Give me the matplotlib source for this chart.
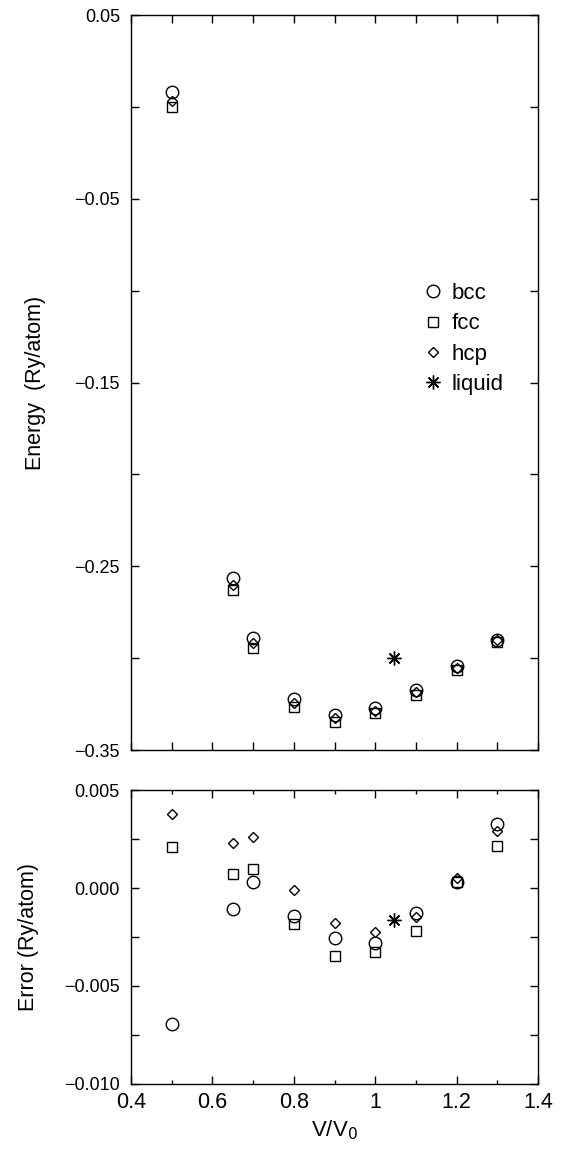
import numpy as np
import matplotlib
matplotlib.use('Agg')
import matplotlib.pyplot as plt
from matplotlib.ticker import MultipleLocator, FixedLocator

plt.rcParams['font.family'] = ['Liberation Sans', 'DejaVu Sans']

# ---- data ----
vol = [0.5, 0.65, 0.7, 0.8, 0.9, 1.0, 1.1, 1.2, 1.3]
e_bcc = [0.008, -0.2565, -0.289, -0.322, -0.331, -0.327, -0.3174, -0.3044, -0.290]
e_fcc = [0.000, -0.263, -0.2946, -0.3267, -0.335, -0.330, -0.320, -0.3066, -0.291]
e_hcp = [0.003, -0.260, -0.292, -0.3245, -0.3327, -0.329, -0.3185, -0.3055, -0.290]
liq_vol = [1.046]
e_liq = [-0.300]

err_bcc = [-0.00695, -0.00109, 0.00032, -0.00143, -0.00257, -0.00279, -0.00126, 0.00032, 0.00325]
err_fcc = [0.00208, 0.00071, 0.00095, -0.00184, -0.00347, -0.00325, -0.00218, 0.00030, 0.00214]
err_hcp = [0.00376, 0.00231, 0.00262, -0.00010, -0.00180, -0.00223, -0.00146, 0.00050, 0.00290]
err_liq = [-0.00163]

top_ticks = [0.05, -0.05, -0.15, -0.25, -0.35]
top_labels = ['0.05', '\u22120.05', '\u22120.15', '\u22120.25', '\u22120.35']
bot_ticks = [0.005, 0.0, -0.005, -0.010]
bot_labels = ['0.005', '0.000', '\u22120.005', '\u22120.010']
x_ticks = [0.4, 0.6, 0.8, 1.0, 1.2, 1.4]
x_labels = ['0.4', '0.6', '0.8', '1', '1.2', '1.4']

fig = plt.figure(figsize=(5.64, 11.56), dpi=100)
ax1 = fig.add_axes([0.2323, 0.3512, 0.7216, 0.6358])
ax2 = fig.add_axes([0.2323, 0.0623, 0.7216, 0.2543])

mk = dict(linestyle='none', markerfacecolor='none', markeredgecolor='black', markeredgewidth=1.0)

def draw(ax, b, f, h, lq):
    ax.plot(vol, b, marker='o', markersize=9, label='bcc', **mk)
    ax.plot(vol, f, marker='s', markersize=7.5, label='fcc', **mk)
    ax.plot(vol, h, marker='D', markersize=5.6, label='hcp', **mk)
    ax.plot(liq_vol, lq, marker=(8, 2, 0), markersize=10, color='black',
            linestyle='none', markeredgewidth=1.0, label='liquid')

draw(ax1, e_bcc, e_fcc, e_hcp, e_liq)
draw(ax2, err_bcc, err_fcc, err_hcp, err_liq)

for ax in (ax1, ax2):
    ax.set_xlim(0.4, 1.4)
    ax.tick_params(which='both', direction='in', top=True, right=True, width=1)
    ax.tick_params(which='major', length=6)
    ax.tick_params(axis='y', which='major', pad=8, labelsize=13)
    for s in ax.spines.values():
        s.set_linewidth(1.0)

# energy panel
ax1.set_ylim(-0.35, 0.05)
ax1.xaxis.set_major_locator(MultipleLocator(0.1))
ax1.set_xticklabels([])
ax1.yaxis.set_major_locator(FixedLocator(top_ticks))
ax1.set_yticklabels(top_labels)
ax1.yaxis.set_minor_locator(FixedLocator([0.0, -0.1, -0.2, -0.3]))
ax1.tick_params(which='minor', length=6)
ax1.set_ylabel('Energy  (Ry/atom)', fontsize=15.5)
ax1.yaxis.set_label_coords(-0.209, 0.5)

ax1.legend(loc='upper left', bbox_to_anchor=(424 / 564, 1 - 283 / 1156),
           bbox_transform=fig.transFigure, frameon=False, fontsize=16,
           handlelength=0.8, handletextpad=0.45, labelspacing=0.42,
           borderpad=0, borderaxespad=0)

# error panel
ax2.set_ylim(-0.010, 0.005)
ax2.set_xticks(x_ticks)
ax2.set_xticklabels(x_labels, fontsize=15.5)
ax2.xaxis.set_minor_locator(MultipleLocator(0.1))
ax2.tick_params(axis='x', which='minor', length=3)
ax2.tick_params(axis='x', which='major', pad=6)
ax2.yaxis.set_major_locator(FixedLocator(bot_ticks))
ax2.set_yticklabels(bot_labels)
ax2.yaxis.set_minor_locator(MultipleLocator(0.0025))
ax2.tick_params(axis='y', which='minor', length=6)
ax2.set_ylabel('Error (Ry/atom)', fontsize=15.5)
ax2.yaxis.set_label_coords(-0.226, 0.5)
ax2.set_xlabel('V/V$_0$', fontsize=16)

fig.savefig('out.png', dpi=100)
